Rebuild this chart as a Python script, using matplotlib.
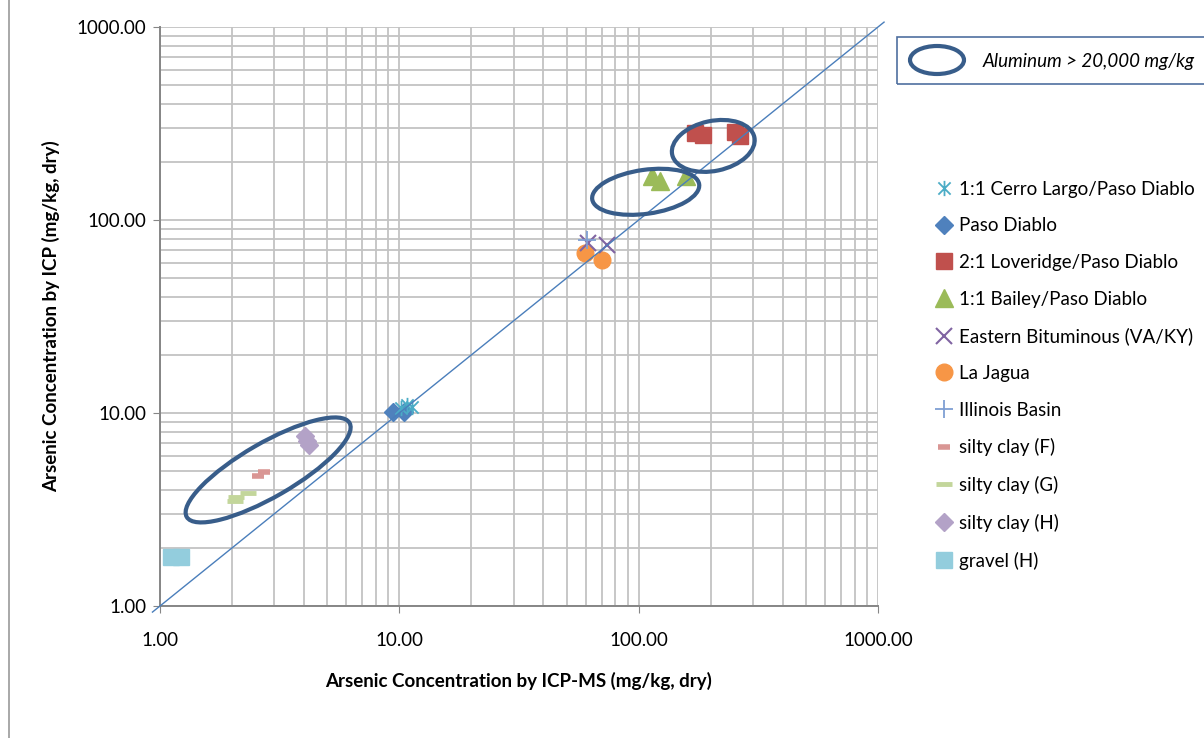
import numpy as np
import matplotlib

matplotlib.use("Agg")
import matplotlib.pyplot as plt
from matplotlib.path import Path
from matplotlib.patches import Ellipse, Rectangle
from matplotlib.transforms import ScaledTranslation
from matplotlib.ticker import LogLocator, FormatStrFormatter, NullFormatter

plt.rcParams["font.family"] = ["Lato", "DejaVu Sans"]

# ---- data (ICP-MS, ICP) ----
cerro_x = [10.2, 10.8, 11.3]
cerro_y = [10.6, 11.0, 10.7]
paso_x = [9.4, 10.5]
paso_y = [10.1, 10.1]
lover_x = [172, 186, 253, 265]
lover_y = [282, 276, 286, 272]
bailey_x = [114, 123, 158]
bailey_y = [169, 159, 169]
eastern_x = [61.4, 73.8]
eastern_y = [76, 74]
jagua_x = [59.7, 70.3]
jagua_y = [67.5, 62.1]
illinois_x = [61.0]
illinois_y = [79.0]
siltyF_x = [2.57, 2.72]
siltyF_y = [4.72, 4.94]
siltyG_x = [2.08, 2.06, 2.33]
siltyG_y = [3.65, 3.48, 3.87]
siltyH_x = [4.04, 4.10, 4.19]
siltyH_y = [7.6, 7.2, 6.85]
gravel_x = [1.11, 1.22]
gravel_y = [1.79, 1.79]

# high-aluminum ellipses: centre (data), width/height (px), angle (deg)
ell_cx = [2.83, 107, 205]
ell_cy = [5.07, 140, 242]
ell_w = [188, 108, 84]
ell_h = [54, 44, 50]
ell_ang = [30, 8, 12]

one_to_one = [0.93, 1060]

FS = 13.5
W, H = 1204, 738
fig = plt.figure(figsize=(W / 100, H / 100), dpi=100)
ax = fig.add_axes([160 / W, 1 - 606 / H, (878 - 160) / W, (606 - 27) / H])

asterisk = Path([(-1, -1), (1, 1), (-1, 1), (1, -1), (0, -1.25), (0, 1.25)],
                [Path.MOVETO, Path.LINETO, Path.MOVETO, Path.LINETO,
                 Path.MOVETO, Path.LINETO])

ax.plot(cerro_x, cerro_y, ls="none", marker=asterisk, ms=11, mfc="none",
        mec="#4bacc6", mew=1.3, label="1:1 Cerro Largo/Paso Diablo", zorder=4)
ax.plot(paso_x, paso_y, ls="none", marker="D", ms=9.5, color="#4f81bd",
        label="Paso Diablo", zorder=3)
ax.plot(lover_x, lover_y, ls="none", marker="s", ms=12, color="#c0504d",
        label="2:1 Loveridge/Paso Diablo", zorder=3)
ax.plot(bailey_x, bailey_y, ls="none", marker="^", ms=13, color="#9bbb59",
        label="1:1 Bailey/Paso Diablo", zorder=3)
ax.plot(eastern_x, eastern_y, ls="none", marker="x", ms=11, mew=1.5,
        color="#8064a2", label="Eastern Bituminous (VA/KY)", zorder=4)
ax.plot(jagua_x, jagua_y, ls="none", marker="o", ms=12, color="#f79646",
        label="La Jagua", zorder=3)
ax.plot(illinois_x, illinois_y, ls="none", marker="+", ms=13, mew=1.3,
        color="#7f9fd3", label="Illinois Basin", zorder=5)
ax.plot(siltyF_x, siltyF_y, ls="none", marker="_", ms=8, mew=4,
        color="#d99694", label="silty clay (F)", zorder=3)
ax.plot(siltyG_x, siltyG_y, ls="none", marker="_", ms=12, mew=3.5,
        color="#c3d69b", label="silty clay (G)", zorder=3)
ax.plot(siltyH_x, siltyH_y, ls="none", marker="D", ms=9, color="#b3a2c7",
        label="silty clay (H)", zorder=3)
ax.plot(gravel_x, gravel_y, ls="none", marker="s", ms=12, color="#93cddd",
        label="gravel (H)", zorder=3)

ax.plot(one_to_one, one_to_one, color="#4a7ebb", lw=1.0, clip_on=False, zorder=5)

ax.set_xscale("log")
ax.set_yscale("log")
ax.set_xlim(1, 1000)
ax.set_ylim(1, 1000)

for axis in (ax.xaxis, ax.yaxis):
    axis.set_major_locator(LogLocator(base=10))
    axis.set_minor_locator(LogLocator(base=10, subs=np.arange(2, 10)))
    axis.set_major_formatter(FormatStrFormatter("%.2f"))
    axis.set_minor_formatter(NullFormatter())

ax.grid(True, which="both", color="#c3c3c3", lw=1.3)
ax.set_axisbelow(True)
for s in ("top", "right"):
    ax.spines[s].set_visible(False)
for s in ("left", "bottom"):
    ax.spines[s].set_color("#868686")
    ax.spines[s].set_linewidth(1.4)
ax.tick_params(which="major", length=5, color="#868686", labelsize=FS, pad=5)
ax.tick_params(which="minor", length=0)
ax.tick_params(axis="x", pad=14)

ax.set_xlabel("Arsenic Concentration by ICP-MS (mg/kg, dry)", fontsize=FS,
              fontweight="bold", labelpad=16)
ax.set_ylabel("Arsenic Concentration by ICP (mg/kg, dry)", fontsize=FS,
              fontweight="bold", labelpad=12)

# ellipses drawn in screen units around a data-space centre
for cx, cy, w, h, a in zip(ell_cx, ell_cy, ell_w, ell_h, ell_ang):
    tr = fig.dpi_scale_trans + ScaledTranslation(cx, cy, ax.transData)
    ax.add_patch(Ellipse((0, 0), w / 100, h / 100, angle=a, transform=tr,
                         fill=False, ec="#385d8a", lw=3, clip_on=False, zorder=6))

leg = ax.legend(loc="upper left", bbox_to_anchor=(928 / W, 1 - 173 / H),
                bbox_transform=fig.transFigure, frameon=False, fontsize=FS,
                labelspacing=1.05, handlelength=0.9, handletextpad=0.35,
                borderaxespad=0, markerscale=1.0)

# "Aluminum" key box
fig.patches.append(Rectangle((897 / W, 1 - 84 / H), 320 / W, 47 / H,
                             transform=fig.transFigure, fill=False,
                             ec="#4f6f9f", lw=1.2))
fig.patches.append(Ellipse((937 / W, 1 - 60 / H), 54 / W, 28 / H,
                           transform=fig.transFigure, fill=False,
                           ec="#385d8a", lw=3))
fig.text(983 / W, 1 - 61 / H, "Aluminum > 20,000 mg/kg", fontsize=FS,
         style="italic", va="center", ha="left")

# chart-area frame (left edge visible)
fig.lines.append(plt.Line2D([9 / W, 9 / W], [0, 1], transform=fig.transFigure,
                            color="#9a9a9a", lw=1.2))

fig.savefig("out.png", dpi=100)
